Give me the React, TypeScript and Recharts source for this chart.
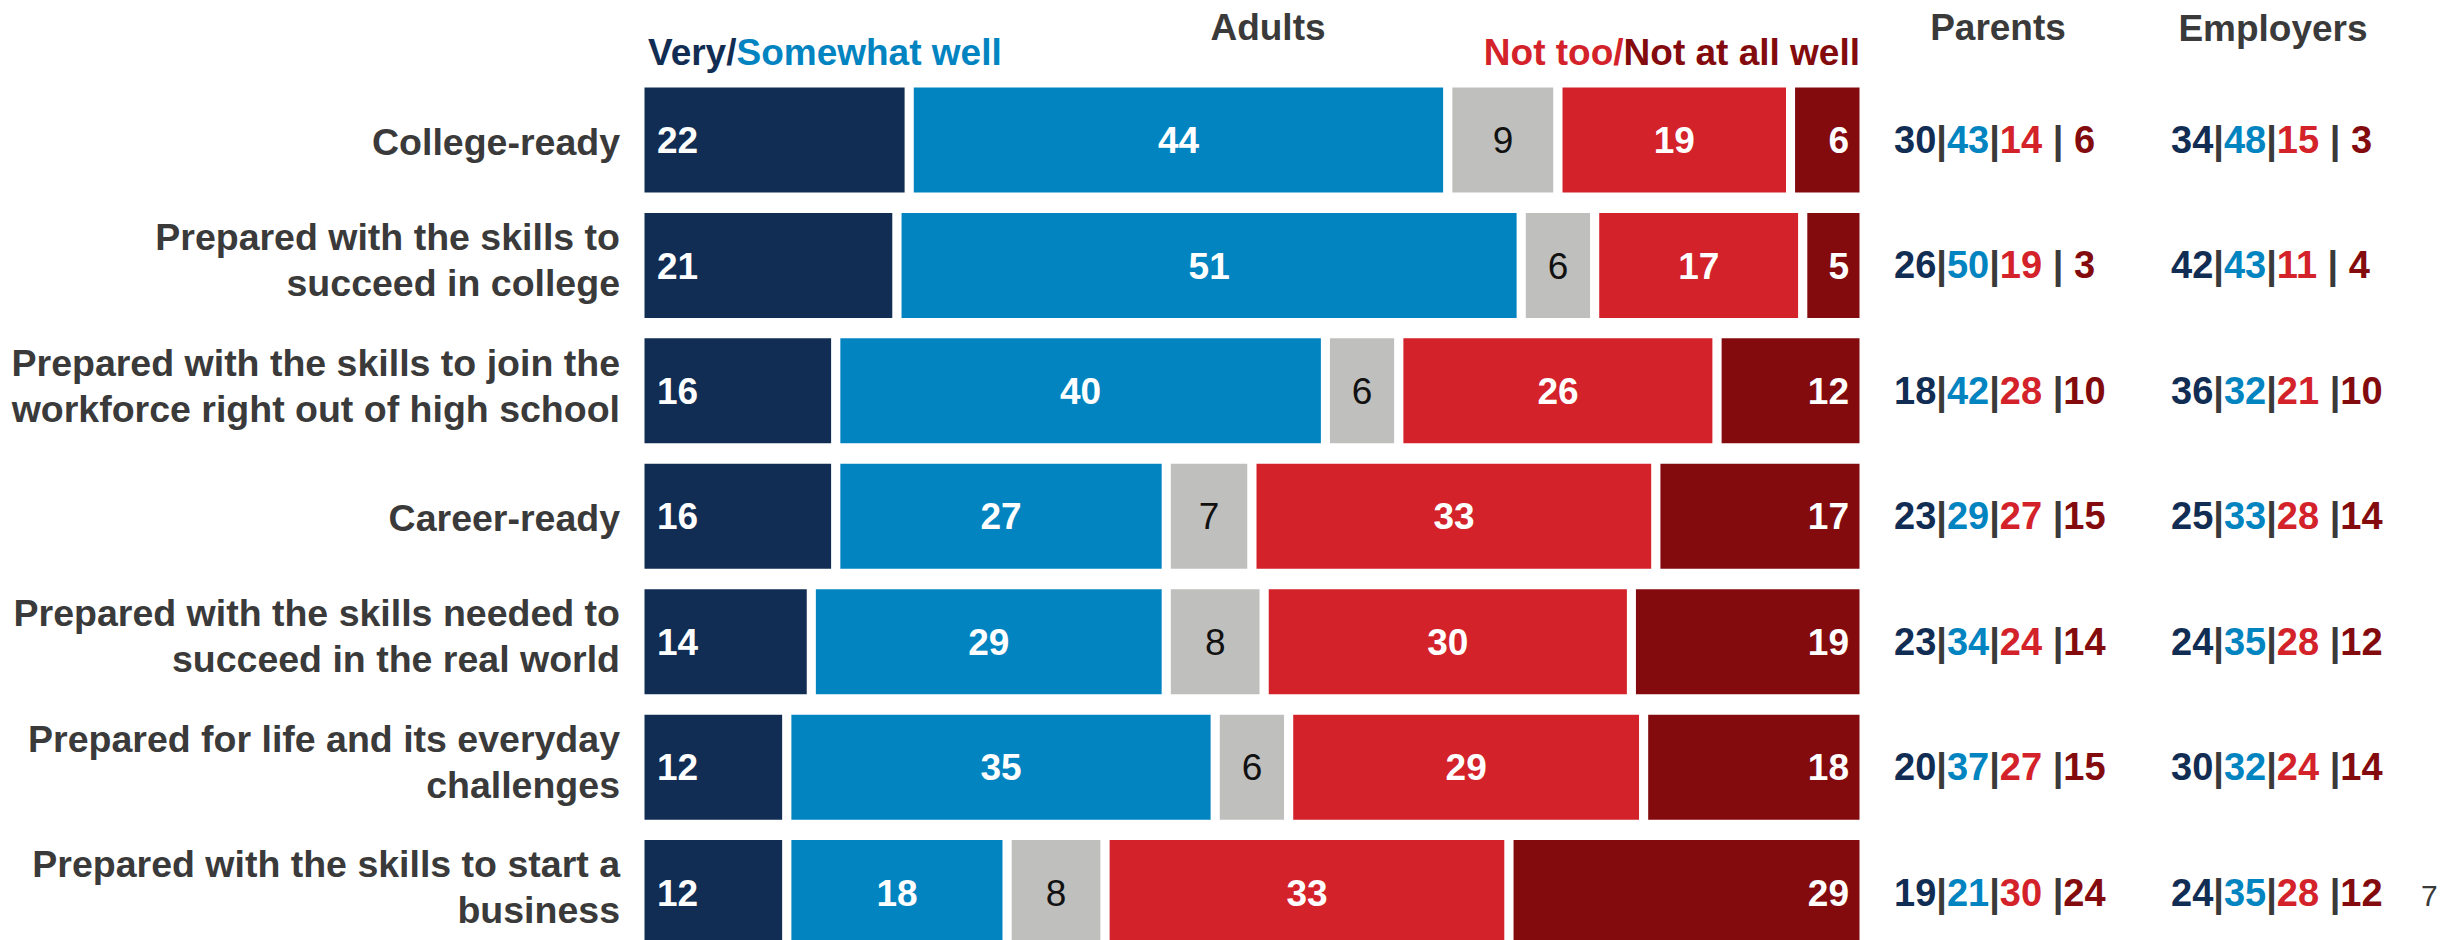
import { Bar, BarChart, LabelList, XAxis, YAxis } from "recharts";

const categories = [
  "College-ready",
  "Prepared with the skills to\nsucceed in college",
  "Prepared with the skills to join the\nworkforce right out of high school",
  "Career-ready",
  "Prepared with the skills needed to\nsucceed in the real world",
  "Prepared for life and its everyday\nchallenges",
  "Prepared with the skills to start a\nbusiness",
];

const veryWell = [22, 21, 16, 16, 14, 12, 12];
const somewhatWell = [44, 51, 40, 27, 29, 35, 18];
const dontKnow = [9, 6, 6, 7, 8, 6, 8];
const notTooWell = [19, 17, 26, 33, 30, 29, 33];
const notAtAllWell = [6, 5, 12, 17, 19, 18, 29];

// Very | Somewhat | Not too | Not at all
const parents = [
  [30, 43, 14, 6],
  [26, 50, 19, 3],
  [18, 42, 28, 10],
  [23, 29, 27, 15],
  [23, 34, 24, 14],
  [20, 37, 27, 15],
  [19, 21, 30, 24],
];
const employers = [
  [34, 48, 15, 3],
  [42, 43, 11, 4],
  [36, 32, 21, 10],
  [25, 33, 28, 14],
  [24, 35, 28, 12],
  [30, 32, 24, 14],
  [24, 35, 28, 12],
];

const NAVY = "#112d53";
const BLUE = "#0284c1";
const GRAY = "#bfbfbd";
const RED = "#d3222a";
const DARK_RED = "#830b0e";
const TEXT = "#3a3a3a";
const FONT = "'Liberation Sans', Arial, sans-serif";

const data = categories.map((name, i) => ({
  name,
  very: veryWell[i],
  somewhat: somewhatWell[i],
  dk: dontKnow[i],
  notToo: notTooWell[i],
  notAtAll: notAtAllWell[i],
}));

function CategoryTick({ x, y, payload }: any) {
  const lines = String(payload.value).split("\n");
  const lineGap = 46;
  // two-line labels sit a little above the bar centre in the original
  const start = lines.length > 1 ? -((lines.length - 1) * lineGap) / 2 - 5 : 2;
  return (
    <text x={x} y={y} textAnchor="end" fill={TEXT} fontSize={37.5} fontWeight="bold" fontFamily={FONT}>
      {lines.map((line, i) => (
        <tspan key={i} x={x} y={y + start + i * lineGap} dominantBaseline="central">
          {line}
        </tspan>
      ))}
    </text>
  );
}

function Split({ x, y, values }: { x: number; y: number; values: number[] }) {
  const last = values[3] < 10 ? ` ${values[3]}` : `${values[3]}`;
  return (
    <text x={x} y={y} dominantBaseline="central" fontSize={38} fontWeight="bold" fontFamily={FONT} style={{ whiteSpace: "pre" }}>
      <tspan fill={NAVY}>{values[0]}</tspan>
      <tspan fill={TEXT}>|</tspan>
      <tspan fill={BLUE}>{values[1]}</tspan>
      <tspan fill={TEXT}>|</tspan>
      <tspan fill={RED}>{values[2]} </tspan>
      <tspan fill={TEXT}>|</tspan>
      <tspan fill={DARK_RED}>{last}</tspan>
    </text>
  );
}

function SideColumns(props: any) {
  const { x, y, width, height, index } = props;
  const right = Number(x) + Number(width);
  const cy = Number(y) + Number(height) / 2;
  return (
    <g>
      <Split x={right + 30} y={cy} values={parents[index]} />
      <Split x={right + 307} y={cy} values={employers[index]} />
    </g>
  );
}

const valueLabel = { fill: "#ffffff", fontSize: 37, fontWeight: "bold", fontFamily: FONT };

export default function App() {
  return (
    <div
      style={{
        position: "fixed",
        left: 0,
        top: 0,
        width: 2463,
        height: 940,
        overflow: "hidden",
        background: "#ffffff",
        fontFamily: FONT,
      }}
    >
      <div style={{ position: "absolute", left: 1268, top: 27, transform: "translate(-50%, -50%)", fontSize: 37, fontWeight: "bold", color: TEXT, lineHeight: 1, whiteSpace: "nowrap" }}>
        Adults
      </div>
      <div style={{ position: "absolute", left: 648, top: 52, transform: "translateY(-50%)", fontSize: 37, fontWeight: "bold", lineHeight: 1, whiteSpace: "nowrap" }}>
        <span style={{ color: NAVY }}>Very/</span>
        <span style={{ color: BLUE }}>Somewhat well</span>
      </div>
      <div style={{ position: "absolute", right: 2463 - 1860, top: 52, transform: "translateY(-50%)", fontSize: 37, fontWeight: "bold", lineHeight: 1, whiteSpace: "nowrap" }}>
        <span style={{ color: RED }}>Not too/</span>
        <span style={{ color: DARK_RED }}>Not at all well</span>
      </div>
      <div style={{ position: "absolute", left: 1998, top: 27, transform: "translate(-50%, -50%)", fontSize: 37, fontWeight: "bold", color: TEXT, lineHeight: 1, whiteSpace: "nowrap" }}>
        Parents
      </div>
      <div style={{ position: "absolute", left: 2273, top: 28, transform: "translate(-50%, -50%)", fontSize: 37, fontWeight: "bold", color: TEXT, lineHeight: 1, whiteSpace: "nowrap" }}>
        Employers
      </div>
      <div style={{ position: "absolute", left: 2421, top: 896, transform: "translateY(-50%)", fontSize: 30, color: TEXT, lineHeight: 1 }}>
        7
      </div>

      <div style={{ position: "absolute", left: 0, top: 0 }}>
        <BarChart
          width={2463}
          height={960}
          data={data}
          layout="vertical"
          barSize={114}
          margin={{ top: 77, right: 599, bottom: 5, left: 0 }}
        >
          <XAxis type="number" domain={[0, 100]} hide />
          <YAxis
            type="category"
            dataKey="name"
            width={640}
            axisLine={false}
            tickLine={false}
            tickSize={0}
            tickMargin={20}
            interval={0}
            tick={<CategoryTick />}
          />
          <Bar dataKey="very" stackId="a" fill={NAVY} stroke="#ffffff" strokeWidth={9} isAnimationActive={false}>
            <LabelList dataKey="very" position="insideLeft" offset={17} style={valueLabel} />
          </Bar>
          <Bar dataKey="somewhat" stackId="a" fill={BLUE} stroke="#ffffff" strokeWidth={9} isAnimationActive={false}>
            <LabelList dataKey="somewhat" position="center" style={valueLabel} />
          </Bar>
          <Bar dataKey="dk" stackId="a" fill={GRAY} stroke="#ffffff" strokeWidth={9} isAnimationActive={false}>
            <LabelList dataKey="dk" position="center" style={{ fill: "#111111", fontSize: 37, fontFamily: FONT }} />
          </Bar>
          <Bar dataKey="notToo" stackId="a" fill={RED} stroke="#ffffff" strokeWidth={9} isAnimationActive={false}>
            <LabelList dataKey="notToo" position="center" style={valueLabel} />
          </Bar>
          <Bar dataKey="notAtAll" stackId="a" fill={DARK_RED} stroke="#ffffff" strokeWidth={9} isAnimationActive={false}>
            <LabelList dataKey="notAtAll" position="insideRight" offset={15} style={valueLabel} />
            <LabelList dataKey="notAtAll" content={<SideColumns />} />
          </Bar>
        </BarChart>
      </div>
    </div>
  );
}
